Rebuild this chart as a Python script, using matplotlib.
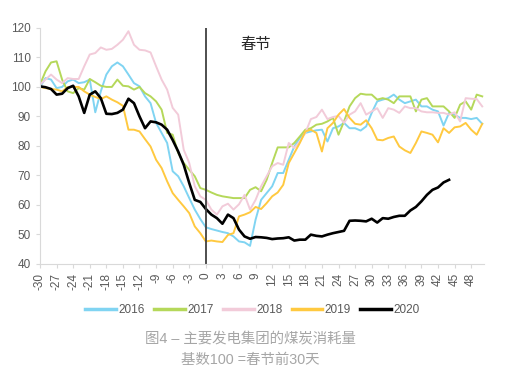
import numpy as np
import matplotlib
matplotlib.use("Agg")
import matplotlib.pyplot as plt

plt.rcParams['font.family'] = ['Liberation Sans', 'Noto Sans CJK SC', 'DejaVu Sans']

# days relative to Spring Festival
days = list(range(-30, 51))

y2016 = [100, 103, 102.5, 99.6, 100, 101.9, 102.5, 101.3, 101.6, 102.5,
         91.4, 98.5, 104.2, 107, 108.3, 107, 104.2, 101.3, 100.2, 96.8,
         94.5, 87.8, 84.4, 81, 71.4, 69.7, 66.3, 62.3, 58.4, 55.2,
         52.4, 51.8, 51.3, 50.8, 50.4, 49.3, 47.6, 47.3, 46.1, 55,
         61.7, 64, 66.3, 70.8, 70.8, 75.3, 79.8, 82.7, 84.4, 84.9,
         85.3, 85.5, 81.5, 86, 86.6, 87.8, 86, 86, 85.2, 86.6,
         91.2, 95.1, 95.7, 96.2, 97.4, 95.7, 94.5, 95.1, 95.7, 93.4,
         93.4, 92.3, 91.7, 86.9, 91.2, 90.6, 89.5, 89.5, 89.1, 89.5, 87.5]

y2017 = [100.8, 105.3, 108.3, 108.7, 102.5, 98.5, 97.9, 99.6, 99.1, 102.7,
         101.6, 100.4, 100, 100, 102.5, 100.4, 100.2, 99.1, 100, 97.9,
         96.8, 95.1, 92.3, 84.4, 83.8, 77.6, 74.2, 71.9, 69.7, 65.7,
         65.1, 64.2, 63.4, 62.9, 62.6, 62.3, 62.3, 62.3, 65.1, 66,
         64.6, 68.5, 74.2, 79.5, 79.5, 79.5, 81, 83.2, 85.5, 86,
         87.2, 87.5, 88.3, 89.5, 83.8, 88.3, 93.4, 96.2, 97.7, 97.4,
         97.4, 95.7, 96.2, 95.7, 94.5, 96.8, 96.8, 96.8, 91.7, 95.7,
         96.2, 93.4, 93.4, 93.4, 91.7, 89.5, 94, 95.1, 92.3, 97.4, 96.8]

y2018 = [100.8, 102.5, 104.2, 102.5, 101.3, 103, 102.7, 102.7, 107, 111,
         111.5, 113.4, 112.6, 112.9, 114.3, 116, 118.9, 114.3, 112.6, 112.4,
         111.7, 107, 102.5, 99.1, 92.9, 90.6, 78.7, 74.2, 66.3, 62.9,
         61.7, 58.4, 56.7, 59.5, 60.4, 58.4, 60.2, 63.4, 58.4, 61.7,
         66.3, 69.7, 73.1, 74.2, 73.6, 81, 79.3, 81.5, 84.4, 89.1,
         89.8, 92.3, 89.1, 89.8, 90.2, 87.8, 90.6, 91.7, 94.5, 90.6,
         91.7, 92.8, 89.5, 92.8, 92.3, 91.2, 93.4, 92.8, 92.8, 91.7,
         91.4, 91.4, 91.2, 91.2, 90.6, 91.4, 88.3, 96.2, 96, 95.9, 93.4]

y2019 = [100, 99.6, 99.3, 99.1, 98.5, 99.9, 100, 100, 98.5, 97.4,
         96.6, 95.9, 96.8, 95.7, 94.8, 93.6, 85.5, 85.5, 84.9, 82.3,
         79.8, 75.3, 72.5, 68, 64, 61.7, 59.5, 57.2, 52.7, 50.4,
         47.6, 47.9, 47.6, 47.4, 49.8, 50.4, 56.1, 56.7, 57.5, 59.3,
         58.6, 60.6, 62.9, 64.2, 66.8, 74.2, 77.6, 81, 84.9, 85.5,
         84.4, 78.1, 86, 87.8, 90.6, 92.5, 89.5, 87.5, 87.2, 88.7,
         86, 82.1, 81.9, 82.7, 83.2, 79.8, 78.5, 77.6, 81, 84.9,
         84.4, 83.8, 81.2, 86, 84.4, 86.3, 86.6, 87.8, 85.5, 83.8, 87.5]

y2020 = [100.2, 99.9, 99.3, 97.4, 97.7, 99.6, 100.4, 96.8, 91.2, 97.4,
         98.5, 96.2, 90.9, 90.8, 91.2, 92.3, 96, 94.5, 90, 86,
         88.3, 88, 87.2, 85.5, 82, 78.1, 73.6, 67.4, 61.7, 61,
         58.6, 56.7, 55.5, 53.6, 56.7, 55.5, 51.6, 49.3, 48.5, 49.1,
         49, 48.8, 48.4, 48.6, 48.7, 49, 47.9, 48.2, 48.2, 49.9,
         49.5, 49.3, 49.9, 50.4, 50.8, 51.2, 54.6, 54.7, 54.6, 54.4,
         55.3, 54, 55.5, 55.3, 55.9, 56.3, 56.3, 58.1, 59.3, 61.2,
         63.4, 65.1, 65.9, 67.6, 68.5]

series = [("2016", y2016, "#80d4f2", 1.4),
          ("2017", y2017, "#b5d85a", 1.4),
          ("2018", y2018, "#f2cbd9", 1.4),
          ("2019", y2019, "#ffc940", 1.4),
          ("2020", y2020, "#000000", 1.9)]

fig = plt.figure(figsize=(5.05, 3.78), dpi=100)
ax = fig.add_axes([0.0792, 0.302, 0.879, 0.624])

for name, vals, col, lw in series:
    ax.plot(days[:len(vals)], vals, color=col, lw=lw, label=name)

ax.axvline(0, color="#404040", lw=1.3)
ax.text(6.2, 114.2, "春节", fontsize=11, color="#262626", va="center")

ax.set_xlim(-30, 50.3)
ax.set_ylim(40, 120)
ax.set_xticks(range(-30, 49, 3))
ax.set_xticklabels([str(t) for t in range(-30, 49, 3)], rotation=90)
ax.set_yticks(range(40, 121, 10))
for s in ["top", "right"]:
    ax.spines[s].set_visible(False)
for s in ["left", "bottom"]:
    ax.spines[s].set_color("#d9d9d9")
ax.tick_params(colors="#d9d9d9", labelcolor="#595959", labelsize=8.5, length=3)

leg = fig.legend(loc="center", bbox_to_anchor=(0.5, 0.18), ncol=5, frameon=False,
                 fontsize=8.5, handlelength=2.6, columnspacing=0.8, handletextpad=0.2)
for t in leg.get_texts():
    t.set_color("#595959")
for h in leg.get_lines():
    h.set_linewidth(2.5)

fig.text(0.495, 0.103, "图4 – 主要发电集团的煤炭消耗量", ha="center", va="center",
         fontsize=10.4, color="#a6a6a6")
fig.text(0.495, 0.047, "基数100 =春节前30天", ha="center", va="center",
         fontsize=10.4, color="#a6a6a6")

fig.savefig("out.png", dpi=100)
